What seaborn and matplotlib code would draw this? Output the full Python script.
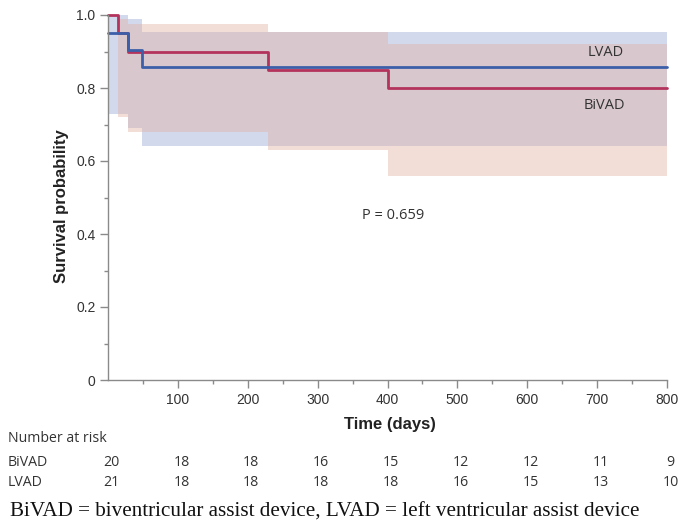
import matplotlib
matplotlib.use("Agg")
import matplotlib.pyplot as plt
import matplotlib.transforms as mtransforms
from matplotlib.ticker import FixedLocator
import seaborn as sns

# Kaplan-Meier curves
biv_time = [0, 14, 28, 229, 400, 800]
biv_surv = [1.0, 0.95, 0.90, 0.85, 0.80, 0.80]
biv_low = [1.0, 0.72, 0.68, 0.63, 0.56, 0.56]
biv_up = [1.0, 0.99, 0.975, 0.953, 0.92, 0.92]

lv_time = [0, 28, 48, 800]
lv_surv = [0.952, 0.905, 0.857, 0.857]
lv_low = [0.73, 0.69, 0.64, 0.64]
lv_up = [1.0, 0.99, 0.953, 0.953]

# number at risk table
risk_days = [0, 100, 200, 300, 400, 500, 600, 700, 800]
risk_bivad = [20, 18, 18, 16, 15, 12, 12, 11, 9]
risk_lvad = [21, 18, 18, 18, 18, 16, 15, 13, 10]

sns.set_style("ticks")
plt.rcParams['font.family'] = ['Liberation Sans', 'DejaVu Sans']

red = '#b3335c'
blue = '#3b5fa9'
grey = '#8a8a8a'
tf = ['Open Sans', 'DejaVu Sans']

fig = plt.figure(figsize=(6.81, 5.27), dpi=100)
ax = fig.add_axes([108/681, 1-380/527, (667-108)/681, (380-15)/527])

# confidence bands
ax.fill_between(lv_time, lv_low, lv_up, step='post', color='#a9b5dd', alpha=0.5, lw=0)
ax.fill_between(biv_time, biv_low, biv_up, step='post', color='#e1ac9b', alpha=0.4, lw=0)

sns.lineplot(x=biv_time, y=biv_surv, ax=ax, color=red, lw=2, drawstyle='steps-post',
             estimator=None, clip_on=False)
sns.lineplot(x=lv_time, y=lv_surv, ax=ax, color=blue, lw=2, drawstyle='steps-post',
             estimator=None, clip_on=False)

ax.set_xlim(0, 800)
ax.set_ylim(0, 1)
sns.despine(ax=ax)
for s in ['left', 'bottom']:
    ax.spines[s].set_color(grey)
    ax.spines[s].set_linewidth(1)

ax.xaxis.set_major_locator(FixedLocator([100, 200, 300, 400, 500, 600, 700, 800]))
ax.xaxis.set_minor_locator(FixedLocator([50, 150, 250, 350, 450, 550, 650, 750]))
ax.yaxis.set_major_locator(FixedLocator([0, 0.2, 0.4, 0.6, 0.8, 1.0]))
ax.yaxis.set_minor_locator(FixedLocator([0.1, 0.3, 0.5, 0.7, 0.9]))
ax.set_yticklabels(['0', '0.2', '0.4', '0.6', '0.8', '1.0'])
ax.tick_params(which='major', length=6, width=1, color=grey, labelsize=10, labelcolor='#333333', pad=3)
ax.tick_params(which='minor', length=3, width=1, color=grey)

ax.set_xlabel('Time (days)', fontsize=12, fontweight='bold', color='#222222', va='center')
ax.set_ylabel('Survival probability', fontsize=12, fontweight='bold', color='#222222', va='center')
ax.xaxis.set_label_coords(0.504, -0.123)
ax.yaxis.set_label_coords(-0.084, 0.477)

ax.text(686, 0.896, 'LVAD', fontsize=10.5, color='#333333', family=tf, va='center')
ax.text(681, 0.753, 'BiVAD', fontsize=10.5, color='#333333', family=tf, va='center')
ax.text(364, 0.452, 'P = 0.659', fontsize=10.5, color='#333333', family=tf, va='center')

# number at risk table under the axes
tr = mtransforms.blended_transform_factory(ax.transData, fig.transFigure)
fig.text(8/681, 1-438/527, 'Number at risk', fontsize=10.2, color='#333333', family=tf, va='center')
fig.text(8/681, 1-463/527, 'BiVAD', fontsize=10.2, color='#333333', family=tf, va='center')
fig.text(8/681, 1-482/527, 'LVAD', fontsize=10.2, color='#333333', family=tf, va='center')
for d, b, l in zip(risk_days, risk_bivad, risk_lvad):
    ax.text(d + 5, 1-463/527, str(b), transform=tr, fontsize=10.2, color='#333333', family=tf,
            ha='center', va='center', clip_on=False)
    ax.text(d + 5, 1-482/527, str(l), transform=tr, fontsize=10.2, color='#333333', family=tf,
            ha='center', va='center', clip_on=False)

fig.text(10/681, 1-512/527, 'BiVAD = biventricular assist device, LVAD = left ventricular assist device',
         fontsize=15.2, color='#111111', family=['Liberation Serif', 'DejaVu Serif'], va='center')

fig.savefig('out.png', dpi=100)
